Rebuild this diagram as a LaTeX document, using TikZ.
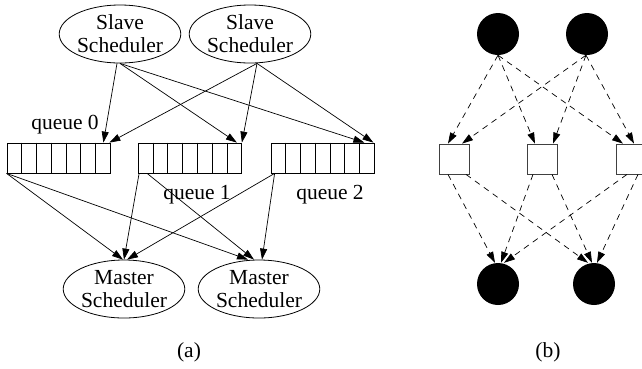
\documentclass[tikz,border=0pt]{standalone}
\usepackage{fontspec}
\setmainfont{Liberation Serif}
\usetikzlibrary{shapes.geometric,arrows.meta,calc}
\tikzset{
  lbl/.style={font=\fontsize{21.5}{23}\selectfont, inner sep=0pt},
  sched/.style={draw, ellipse, line width=0.8pt, inner sep=0pt, minimum height=58pt, align=center, font=\fontsize{21.5}{23}\selectfont},
  rec/.style={draw, rectangle, line width=0.8pt, minimum width=103pt, minimum height=30pt, inner sep=0pt},
  conn/.style={line width=0.7pt, -{Triangle[length=11pt,width=7pt]}},
  dconn/.style={line width=0.7pt, dash pattern=on 6pt off 5pt, -{Triangle[length=11pt,width=7pt]}},
  dot/.style={circle, fill=black, minimum size=42pt, inner sep=0pt},
  sq/.style={draw=black!75, rectangle, line width=0.8pt, minimum width=30pt, minimum height=30pt, inner sep=0pt},
}
\begin{document}
\begin{tikzpicture}[x=1pt,y=-1pt]
\useasboundingbox (0,0) rectangle (642,368);
% (a)
\node[sched, minimum width=118pt] (s1) at (120,34) {Slave\\Scheduler};
\node[sched, minimum width=108pt] (s2) at (250,34) {Slave\\Scheduler};
\node[rec] (q0) at (58.5,158) {};
\node[rec] (q1) at (190,158) {};
\node[rec] (q2) at (322.5,158) {};
\foreach \q in {q0,q1,q2}{
  \foreach \i in {1,...,6}{
    \draw[line width=0.8pt] ($(\q.north west)!\i/7!(\q.north east)$) -- ($(\q.south west)!\i/7!(\q.south east)$);
  }
}
\node[lbl] (l0) at (65,125) {queue 0};
\node[lbl] (l1) at (197,195) {queue 1};
\node[lbl] (l2) at (330,195) {queue 2};
\node[sched, minimum width=117pt] (m1) at (124,289) {Master\\Scheduler};
\node[sched, minimum width=118pt] (m2) at (259,289) {Master\\Scheduler};

\draw[conn] ([xshift=-3pt]s1.south) -- ([xshift=-7pt]q0.north east);
\draw[conn] (s1.south) -- ([xshift=-5pt]q1.north east);
\draw[conn] (s1.south) -- ([xshift=-10pt]q2.north east);
\draw[conn] ([xshift=7pt]s2.south) -- ([xshift=-1pt]q0.north east);
\draw[conn] ([xshift=7pt]s2.south) -- (q1.north east);
\draw[conn] ([xshift=7pt]s2.south) -- ([xshift=-1pt]q2.north east);

\draw[conn] (q0.south west) -- ([xshift=-1pt]m1.north);
\draw[conn] (q0.south west) -- ([xshift=-11pt]m2.north);
\draw[conn] ([xshift=1pt]q1.south west) -- (m1.north);
\draw[conn] ([xshift=9pt]q1.south west) -- ([xshift=-5pt]m2.north);
\draw[conn] ([xshift=4pt]q2.south west) -- ([xshift=3pt]m1.north);
\draw[conn] ([xshift=4pt]q2.south west) -- ([xshift=3pt]m2.north);

\node[lbl] (ca) at (189,352) {(a)};

% (b)
\node[dot] (c1) at (498,34) {};
\node[dot] (c2) at (587,34) {};
\node[sq] (p1) at (454,159) {};
\node[sq] (p2) at (542,159) {};
\node[sq] (p3) at (631,159) {};
\node[dot] (d1) at (498,284) {};
\node[dot] (d2) at (594,284) {};

\draw[dconn] (c1.south) -- ([xshift=-6pt]p1.north);
\draw[dconn] (c1.south) -- ([xshift=-7pt]p2.north);
\draw[dconn] (c1.south) -- ([xshift=-8pt]p3.north);
\draw[dconn] ([xshift=-1pt]c2.south) -- ([xshift=8pt]p1.north);
\draw[dconn] ([xshift=-1pt]c2.south) -- ([xshift=11pt]p2.north);
\draw[dconn] ([xshift=-1pt]c2.south) -- ([xshift=3pt]p3.north);

\draw[dconn] ([xshift=-6pt]p1.south) -- ([xshift=-3pt]d1.north);
\draw[dconn] ([xshift=12pt]p1.south) -- ([xshift=-6pt]d2.north);
\draw[dconn] ([xshift=-9pt]p2.south) -- ([xshift=3pt]d1.north);
\draw[dconn] ([xshift=10pt]p2.south) -- ([xshift=-2pt]d2.north);
\draw[dconn] ([xshift=-4pt]p3.south) -- ([xshift=6pt]d1.north);
\draw[dconn] ([xshift=7pt]p3.south) -- ([xshift=3pt]d2.north);

\node[lbl] (cb) at (548,352) {(b)};
\end{tikzpicture}
\end{document}
